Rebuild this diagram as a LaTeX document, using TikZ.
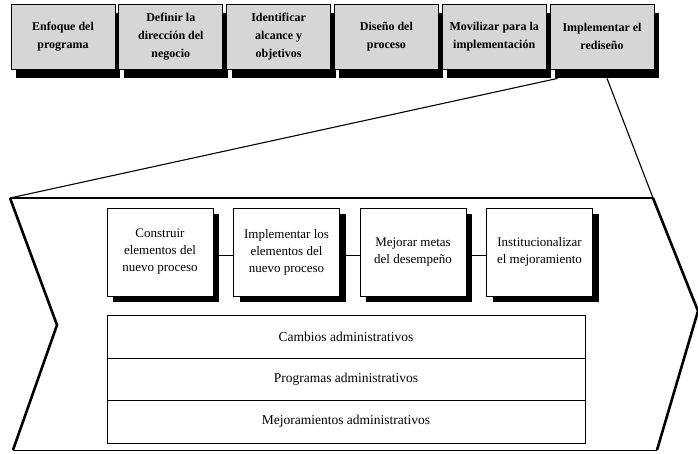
\documentclass[tikz,border=0pt]{standalone}
\usepackage{fontspec}
\setmainfont{Liberation Serif}
\usetikzlibrary{shadows}

\tikzset{
  phasebox/.style={draw=black, line width=0.8pt, fill=gray!32,
    minimum width=104pt, minimum height=65pt, inner sep=1pt,
    align=center, font=\bfseries\fontsize{12}{18}\selectfont,
    drop shadow={shadow xshift=5pt, shadow yshift=-9pt, opacity=1, fill=black}},
  stepbox/.style={draw=black, line width=0.8pt, fill=white,
    minimum width=106pt, minimum height=88pt, inner sep=1pt,
    align=center, font=\fontsize{13}{17}\selectfont,
    drop shadow={shadow xshift=6pt, shadow yshift=-6pt, opacity=1, fill=black}},
  rowbox/.style={draw=black, line width=0.8pt, minimum width=478pt,
    inner sep=0pt, font=\fontsize{13.5}{16}\selectfont},
  thinlink/.style={line width=1.1pt},
  chevedge/.style={line width=2.6pt, line join=miter, line cap=butt},
}

\begin{document}
\begin{tikzpicture}[x=1pt, y=-1pt]
  \useasboundingbox (0,0) rectangle (698,453);

  % phases of the program
  \node[phasebox] (t1) at (63,36.5)    {Enfoque del\\programa};
  \node[phasebox] (t2) at (170.8,36.5) {Definir la\\dirección del\\negocio};
  \node[phasebox] (t3) at (278.6,36.5) {Identificar\\alcance y\\objetivos};
  \node[phasebox] (t4) at (386.4,36.5) {Diseño del\\proceso};
  \node[phasebox] (t5) at (494.2,36.5) {Movilizar para la\\implementación};
  \node[phasebox] (t6) at (602,36.5)   {Implementar el\\rediseño};

  % outline of the expanded phase
  \coordinate (cTL)   at (10,198);
  \coordinate (cTR)   at (653,198);
  \coordinate (tip)   at (698,311);
  \coordinate (cBR)   at (657,450);
  \coordinate (cBL)   at (13,450);
  \coordinate (notch) at (57,325);

  \draw[thinlink] ([xshift=8pt,yshift=-9pt]t6.south west) -- (cTL);
  \draw[thinlink] ([xshift=5pt,yshift=-9pt]t6.south) -- (cTR);

  \draw[line width=2pt] (cTL) -- (cTR);
  \draw[chevedge] (cTR) -- (tip) -- (cBR);
  \draw[line width=1pt] (cBR) -- (cBL);
  \draw[chevedge] (cBL) -- (notch) -- (cTL);

  % steps of the implementation
  \node[stepbox] (s1) at (160,252)   {Construir\\elementos del\\nuevo proceso};
  \node[stepbox] (s2) at (286.5,252) {Implementar los\\elementos del\\nuevo proceso};
  \node[stepbox] (s3) at (413,252)   {Mejorar metas\\del desempeño};
  \node[stepbox] (s4) at (539.5,252) {Institucionalizar\\el mejoramiento};

  \draw[line width=0.9pt] ([yshift=-3pt]s1.east) -- ([yshift=-3pt]s2.west);
  \draw[line width=0.9pt] ([yshift=-3pt]s2.east) -- ([yshift=-3pt]s3.west);
  \draw[line width=0.9pt] ([yshift=-3pt]s3.east) -- ([yshift=-3pt]s4.west);

  % management layers
  \node[rowbox, minimum height=43pt] (r1) at (346,336.5) {Cambios administrativos};
  \node[rowbox, minimum height=42pt] (r2) at (346,379)   {Programas administrativos};
  \node[rowbox, minimum height=43pt] (r3) at (346,421.5) {Mejoramientos administrativos};
\end{tikzpicture}
\end{document}
